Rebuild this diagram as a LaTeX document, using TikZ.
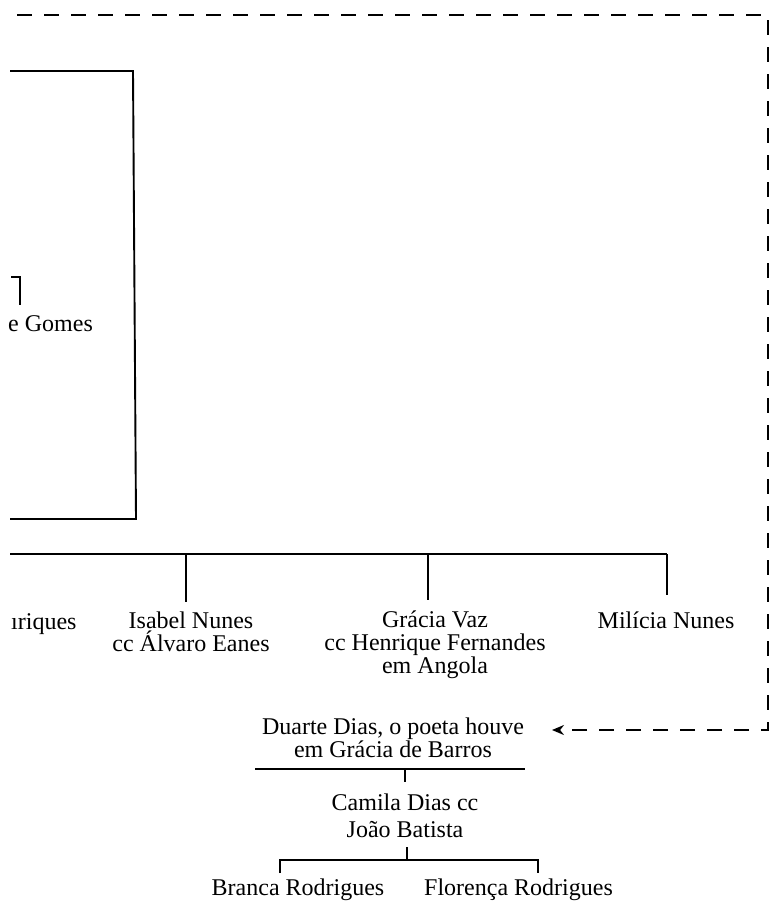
\documentclass[tikz,border=0pt]{standalone}
\usepackage{fontspec}
\setmainfont{Liberation Serif}
\usetikzlibrary{arrows.meta}
\begin{document}
\begin{tikzpicture}[x=1pt,y=-1pt,
  line/.style={line width=1.9pt},
  person/.style={font=\fontsize{24}{23}\selectfont, align=center, inner sep=0pt},
  dashlink/.style={line width=1.9pt, dash pattern=on 15pt off 12pt},
]
\useasboundingbox[fill=white] (0,0) rectangle (775,903);

% dashed link
\coordinate (dTL) at (17,15);
\coordinate (dTR) at (768,15);
\coordinate (dBR) at (768,730);
\coordinate (arrTip) at (552,730);

% persons (base anchor = baseline of the last line)
\node[person, anchor=base west] (gomes) at (8,331) {e Gomes};
\node[person, anchor=base west] (henr) at (11,629) {ıriques};
\node[person, anchor=base] (isabel) at (191,651) {Isabel Nunes\\cc Álvaro Eanes};
\node[person, anchor=base] (gracia) at (435,673) {Grácia Vaz\\cc Henrique Fernandes\\em Angola};
\node[person, anchor=base] (milicia) at (666,628) {Milícia Nunes};
\node[person, anchor=base] (duarte) at (393,757) {Duarte Dias,\ o poeta houve\\em Grácia de Barros};
\node[person, anchor=base] (camila) at (405,837) {Camila Dias cc\\[4pt]João Batista};
\node[person, anchor=base] (branca) at (298,895) {Branca Rodrigues};
\node[person, anchor=base west] (florenca) at (424,895) {Florença Rodrigues};

\draw[dashlink, -{Stealth[length=12pt,width=10pt]}] (dTL) -- (dTR) -- (dBR) -- (arrTip);

% box
\coordinate (bTL) at (10,71);
\coordinate (bTR) at (133,71);
\coordinate (bBR) at (136,519);
\coordinate (bBL) at (10,519);
\draw[line] (bTL) -- (bTR) -- (bBR) -- (bBL);

% small bracket above Gomes
\coordinate (k1) at (11,277);
\coordinate (k2) at (20,277);
\coordinate (k3) at (20,305);
\draw[line] (k1) -- (k2) -- (k3);

% sibling bar
\coordinate (s0) at (10,554);
\coordinate (s1) at (186,554);
\coordinate (s2) at (428,554);
\coordinate (s3) at (667,554);
\coordinate (e1) at (186,602);
\coordinate (e2) at (428,600);
\coordinate (e3) at (667,595);
\draw[line] (s0) -- (s3);
\draw[line] (s1) -- (e1);
\draw[line] (s2) -- (e2);
\draw[line] (s3) -- (e3);

% Duarte line
\coordinate (u0) at (255,769);
\coordinate (u1) at (525,769);
\coordinate (u2) at (405,769);
\coordinate (u3) at (405,782);
\draw[line] (u0) -- (u1);
\draw[line] (u2) -- (u3);

% Camila children
\coordinate (c0) at (407,847);
\coordinate (c1) at (407,860);
\coordinate (cL) at (280,860);
\coordinate (cR) at (538,860);
\coordinate (cLd) at (280,873);
\coordinate (cRd) at (538,873);
\draw[line] (c0) -- (c1);
\draw[line] (cLd) -- (cL) -- (cR) -- (cRd);
\end{tikzpicture}
\end{document}
